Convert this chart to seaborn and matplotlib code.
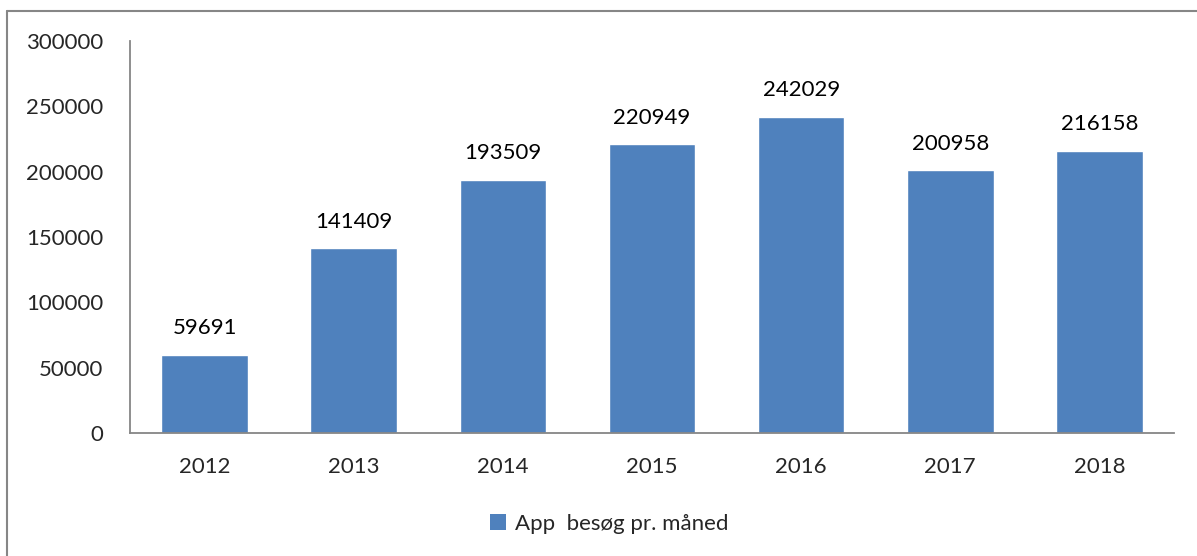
import matplotlib
matplotlib.use('Agg')
import matplotlib.pyplot as plt
import seaborn as sns
from matplotlib.lines import Line2D
from matplotlib.patches import Patch

# chart data
years = ['2012', '2013', '2014', '2015', '2016', '2017', '2018']
visits = [59691, 141409, 193509, 220949, 242029, 200958, 216158]
series_name = 'App  besøg pr. måned'
y_ticks = [0, 50000, 100000, 150000, 200000, 250000, 300000]

bar_color = '#4F81BD'
axis_gray = '#868686'

sns.set_style('white')
plt.rcParams['font.family'] = ['Lato', 'DejaVu Sans']

fig = plt.figure(figsize=(11.97, 5.56), dpi=100)
ax = fig.add_axes([0.1086, 0.2212, 0.8722, 0.7051])

sns.barplot(x=years, y=visits, color=bar_color, width=0.58, saturation=1, ax=ax)

for i, v in enumerate(visits):
    ax.annotate(str(v), (i, v), xytext=(0, 12), textcoords='offset points',
                ha='center', va='bottom', fontsize=16, color='black')

ax.set_xlim(-0.5, len(years) - 0.5)
ax.set_ylim(0, 300000)
ax.set_yticks(y_ticks)
ax.set_yticklabels([str(t) for t in y_ticks], fontsize=16)
ax.tick_params(axis='x', length=0, pad=17, labelsize=16)
ax.tick_params(axis='y', length=0, pad=19)

for side in ['top', 'right']:
    ax.spines[side].set_visible(False)
for side in ['left', 'bottom']:
    ax.spines[side].set_color(axis_gray)
    ax.spines[side].set_linewidth(1.3)

handle = Patch(facecolor=bar_color, edgecolor='none')
fig.legend([handle], [series_name], loc='center', bbox_to_anchor=(0.509, 0.058),
           frameon=False, fontsize=16, handlelength=0.7, handleheight=0.7,
           handletextpad=0.4)

# outer chart border (top and left only visible)
fig.add_artist(Line2D([7 / 1197, 1], [1 - 11 / 556, 1 - 11 / 556],
                      transform=fig.transFigure, color=axis_gray, lw=1.5))
fig.add_artist(Line2D([7 / 1197, 7 / 1197], [0, 1 - 11 / 556],
                      transform=fig.transFigure, color=axis_gray, lw=1.5))

fig.savefig('out.png', dpi=100)
